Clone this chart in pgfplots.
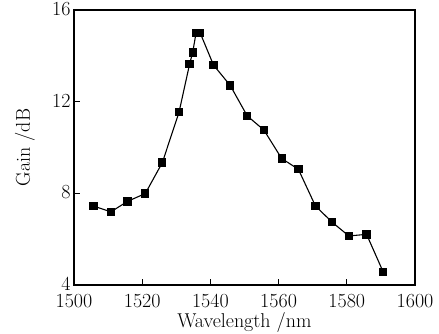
\documentclass[border=0pt]{standalone}
\usepackage{pgfplots}
\pgfplotsset{compat=1.18}
\begin{document}
\begin{tikzpicture}
\begin{axis}[
  name=ax,
  scale only axis,
  width=341pt, height=275pt,
  xmin=1500, xmax=1600, ymin=4, ymax=16,
  xtick={1500,1520,...,1600},
  ytick={4,8,12,16},
  tick align=inside,
  xtick pos=bottom, ytick pos=left,
  major tick length=6pt,
  axis line style={line width=1.3pt},
  tick style={line width=1pt, black},
  /pgf/number format/assume math mode=true,
  tick label style={font=\fontsize{20}{24}\selectfont, inner ysep=0pt},
  label style={font=\fontsize{20}{24}\selectfont},
  xticklabel style={/pgf/number format/1000 sep={}, yshift=-9pt},
  yticklabel style={yshift=1pt},
  xlabel={Wavelength /nm},
  ylabel={Gain /dB},
  xlabel style={at={(axis description cs:0.5,-0.138)}, anchor=center, inner sep=1pt},
  ylabel style={at={(axis description cs:-0.1437,0.5)}, anchor=center},
]
\addplot[black, line width=1.1pt, mark=square*, mark size=3.6pt, mark options={solid, fill=black}] coordinates {
(1505.7,7.45) (1510.8,7.19) (1515.7,7.65) (1520.9,7.99) (1525.9,9.34)
(1530.8,11.54) (1533.9,13.64) (1534.8,14.15) (1535.8,15.0) (1537.0,15.0)
(1540.9,13.6) (1545.8,12.71) (1550.8,11.38) (1555.7,10.76) (1560.9,9.52)
(1565.8,9.05) (1570.8,7.45) (1575.7,6.74) (1580.6,6.14) (1585.8,6.21)
(1590.7,4.56)
};
\end{axis}
\pgfresetboundingbox
\path ([xshift=-74pt,yshift=-49pt]ax.south west) rectangle ([xshift=24pt,yshift=10pt]ax.north east);
\end{tikzpicture}
\end{document}
